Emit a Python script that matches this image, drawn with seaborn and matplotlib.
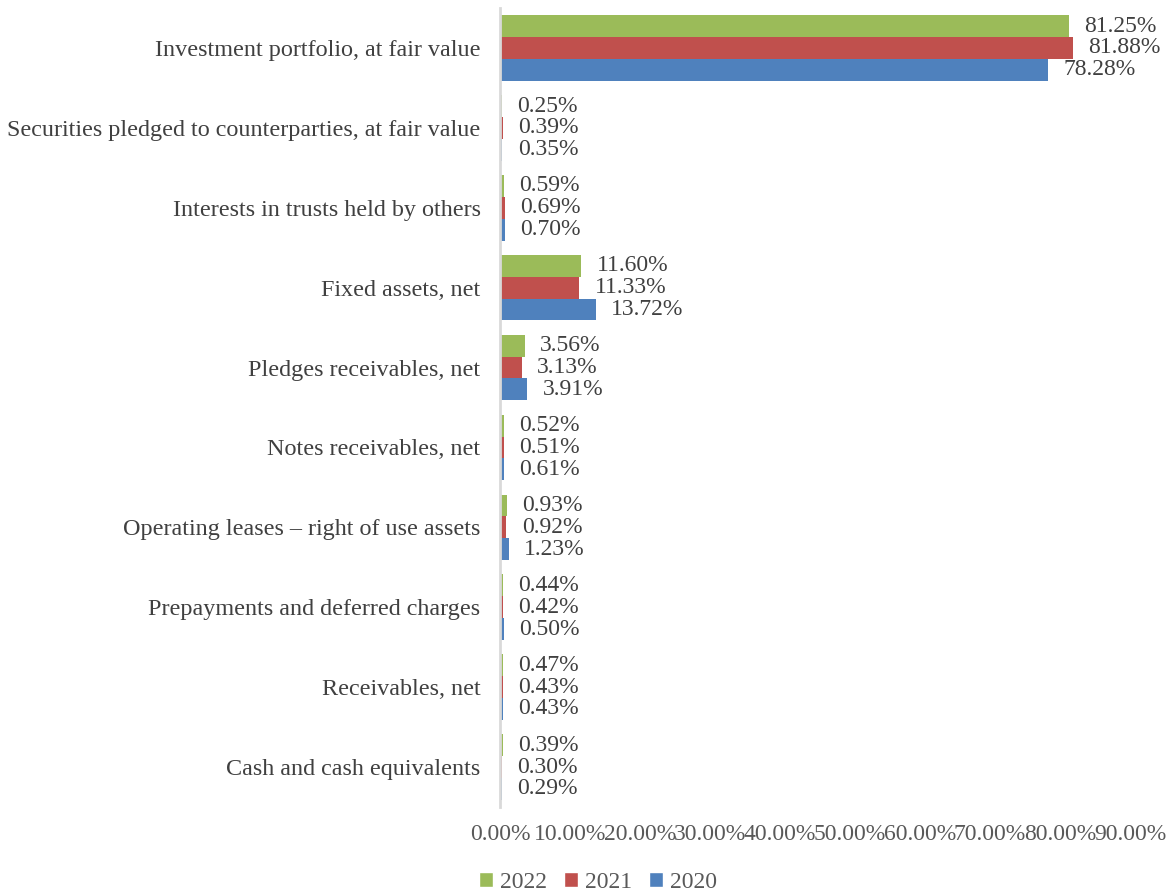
import matplotlib
matplotlib.use("Agg")
import matplotlib.pyplot as plt
import seaborn as sns
import pandas as pd
from matplotlib.ticker import FuncFormatter, MultipleLocator
from matplotlib.patches import Patch

categories = [
    "Investment portfolio, at fair value",
    "Securities pledged to counterparties, at fair value",
    "Interests in trusts held by others",
    "Fixed assets, net",
    "Pledges receivables, net",
    "Notes receivables, net",
    "Operating leases \u2013 right of use assets",
    "Prepayments and deferred charges",
    "Receivables, net",
    "Cash and cash equivalents",
]
years = ["2022", "2021", "2020"]
values_2022 = [81.25, 0.25, 0.59, 11.60, 3.56, 0.52, 0.93, 0.44, 0.47, 0.39]
values_2021 = [81.88, 0.39, 0.69, 11.33, 3.13, 0.51, 0.92, 0.42, 0.43, 0.30]
values_2020 = [78.28, 0.35, 0.70, 13.72, 3.91, 0.61, 1.23, 0.50, 0.43, 0.29]
colors = ["#9BBB59", "#C0504D", "#4F81BD"]

rows = []
for yr, vals in zip(years, [values_2022, values_2021, values_2020]):
    for c, v in zip(categories, vals):
        rows.append({"category": c, "year": yr, "value": v})
df = pd.DataFrame(rows)

sns.set_theme(style="white")
plt.rcParams["font.family"] = ["Liberation Serif", "DejaVu Serif"]

FS = 17.4

fig = plt.figure(figsize=(11.72, 8.96), dpi=100)
ax = fig.add_axes([500 / 1172, 1 - 807 / 896, 630 / 1172, 799 / 896])

sns.barplot(data=df, y="category", x="value", hue="year", order=categories,
            hue_order=years, palette=colors, orient="h", width=0.82,
            ax=ax, legend=False, saturation=1, linewidth=0)

for cont in ax.containers:
    ax.bar_label(cont, labels=[f"{v:.2f}%" for v in cont.datavalues],
                 padding=11, fontsize=17, color="#404040")

ax.set_xlim(0, 90)
ax.xaxis.set_major_locator(MultipleLocator(10))
ax.xaxis.set_major_formatter(FuncFormatter(lambda v, p: f"{v:.2f}%"))
ax.set_xlabel("")
ax.set_ylabel("")
ax.tick_params(axis="x", labelsize=17, colors="#595959", length=0, pad=12)
ax.tick_params(axis="y", labelsize=FS, colors="#404040", length=0, pad=14)
for s in ["top", "right", "bottom"]:
    ax.spines[s].set_visible(False)
ax.spines["left"].set_color("#D9D9D9")
ax.spines["left"].set_linewidth(2)
ax.grid(False)

handles = [Patch(facecolor=c, label=y) for c, y in zip(colors, years)]
fig.legend(handles=handles, loc="center", bbox_to_anchor=(598 / 1172, 1 - 882 / 896),
           ncol=3, frameon=False, fontsize=17, handlelength=0.6, handleheight=0.6,
           handletextpad=0.3, columnspacing=0.7, labelcolor="#595959",
           borderpad=0, borderaxespad=0)

fig.savefig("out.png", dpi=100)
